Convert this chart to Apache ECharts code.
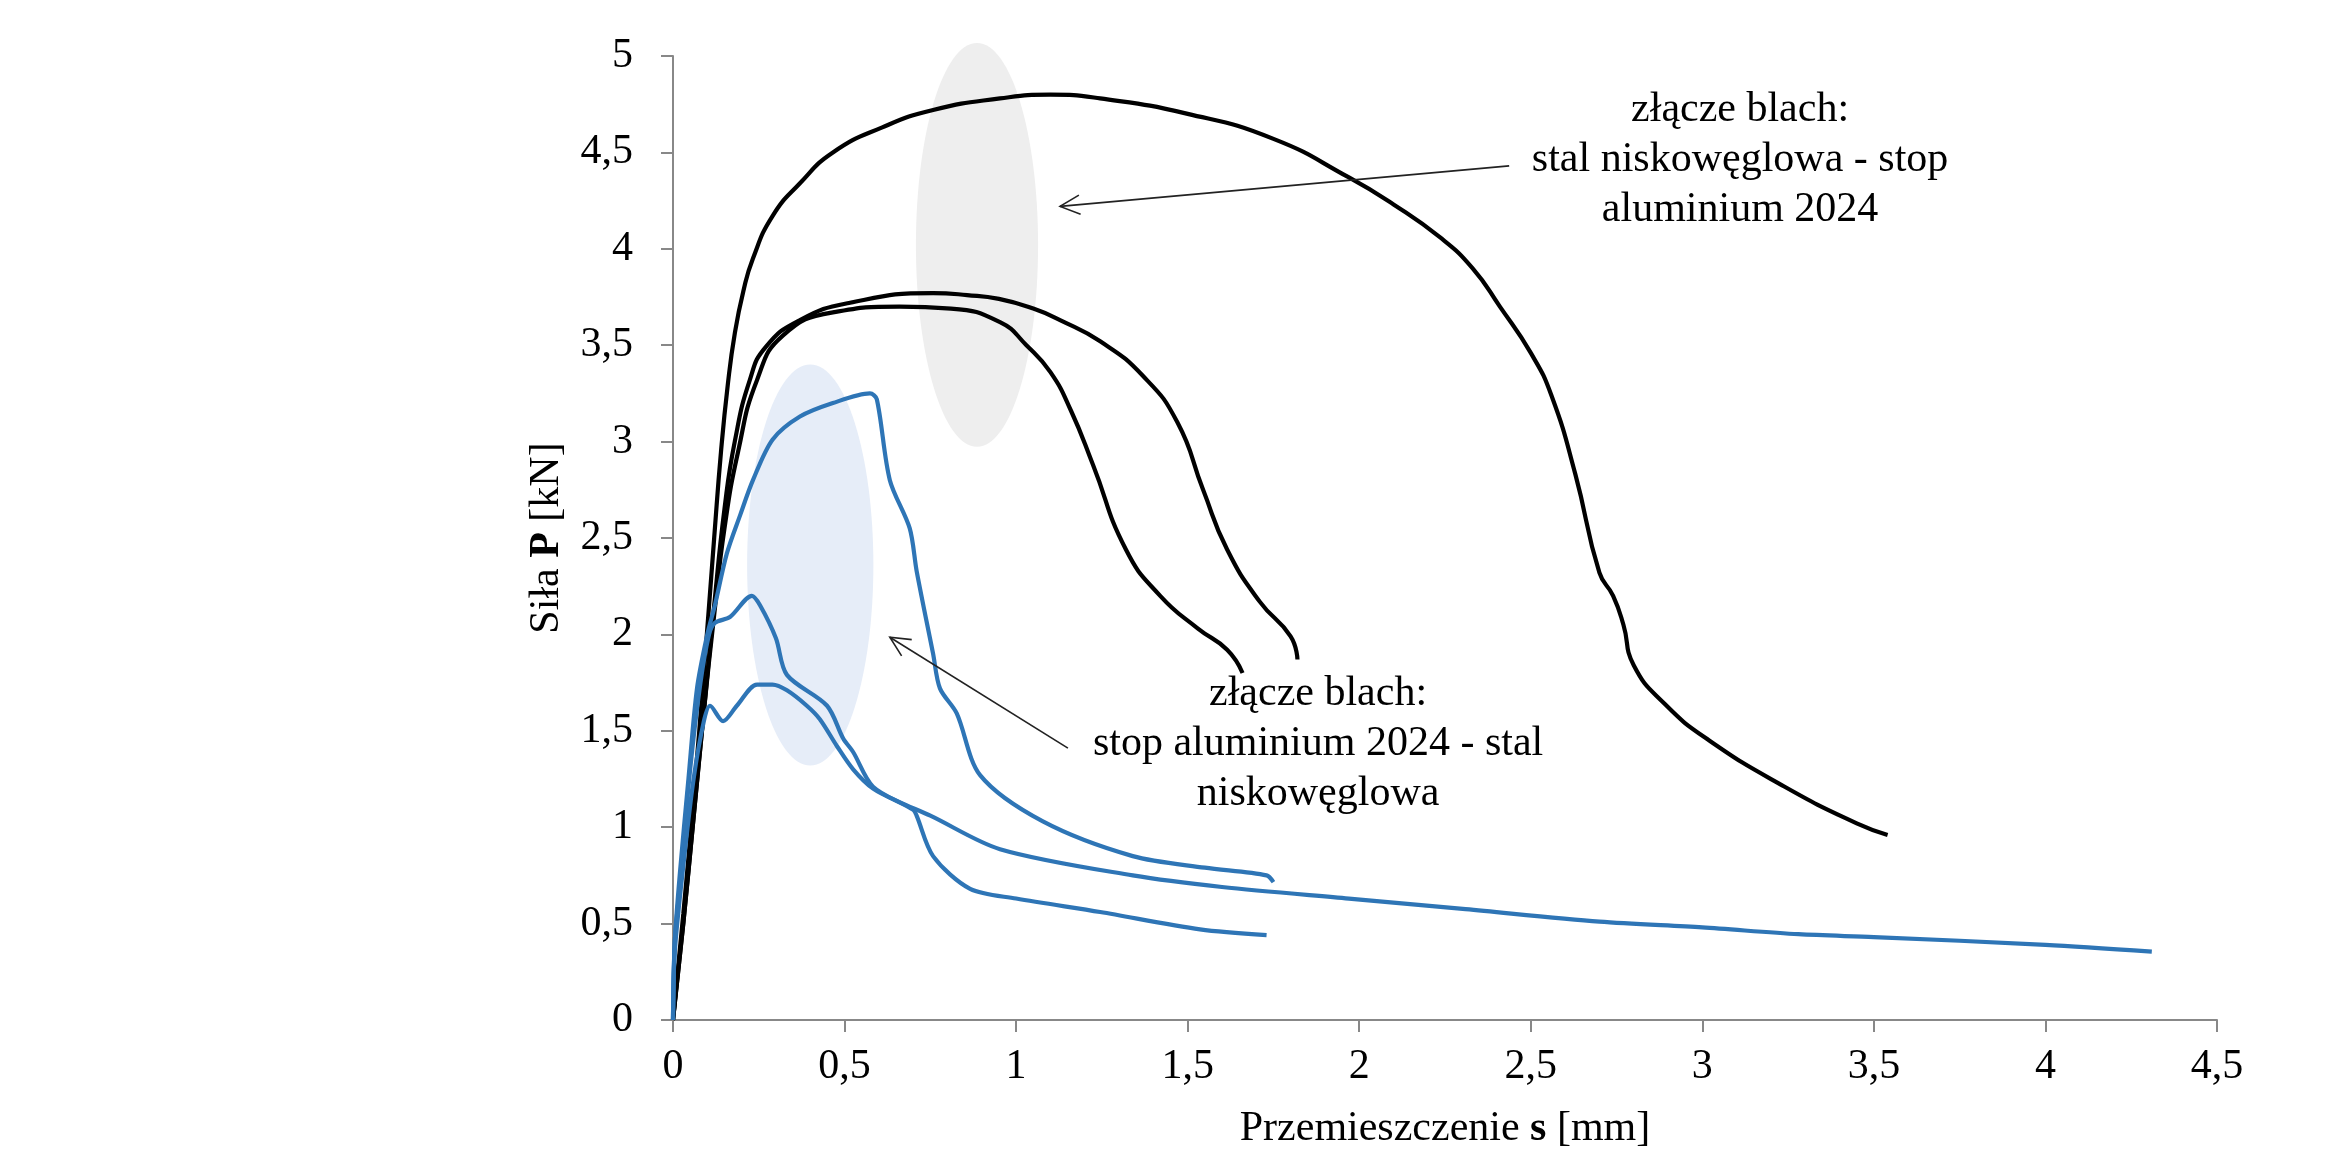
<!DOCTYPE html>
<html>
<head>
<meta charset="utf-8">
<script src="https://cdn.jsdelivr.net/npm/echarts@6/dist/echarts.min.js"></script>
<style>
html,body{margin:0;padding:0;background:#fff;}
#main{width:2331px;height:1155px;}
</style>
</head>
<body>
<div id="main"></div>
<script>
// stal - aluminium (czarne)
var steelA = [[0,0],[0.03,0.55],[0.06,1.15],[0.09,1.8],[0.12,2.5],[0.14,2.95],[0.16,3.3],[0.18,3.56],[0.205,3.78],[0.233,3.95],[0.29,4.17],[0.37,4.34],[0.466,4.50],[0.61,4.63],[0.758,4.72],[0.953,4.78],[1.1,4.80],[1.245,4.78],[1.5,4.70],[1.75,4.57],[1.97,4.37],[2.10,4.23],[2.235,4.06],[2.33,3.90],[2.41,3.70],[2.50,3.46],[2.56,3.24],[2.63,2.83],[2.70,2.32],[2.74,2.20],[2.77,2.05],[2.80,1.84],[2.89,1.64],[3.02,1.45],[3.24,1.21],[3.45,1.02],[3.54,0.96]];
var steelB = [[0,0],[0.03,0.5],[0.06,1.05],[0.09,1.6],[0.12,2.15],[0.15,2.65],[0.18,3.0],[0.224,3.32],[0.27,3.49],[0.37,3.63],[0.516,3.72],[0.758,3.77],[0.857,3.76],[0.95,3.74],[1.05,3.69],[1.128,3.63],[1.245,3.52],[1.37,3.34],[1.47,3.10],[1.545,2.75],[1.615,2.44],[1.71,2.17],[1.80,1.99],[1.82,1.87]];
var steelC = [[0,0],[0.03,0.5],[0.06,1.05],[0.09,1.6],[0.12,2.1],[0.15,2.55],[0.19,2.95],[0.245,3.32],[0.32,3.55],[0.466,3.67],[0.66,3.70],[0.81,3.69],[0.953,3.62],[1.03,3.50],[1.1,3.36],[1.16,3.16],[1.224,2.88],[1.32,2.44],[1.42,2.20],[1.53,2.03],[1.615,1.92],[1.66,1.80]];

// aluminium - stal (niebieskie)
var aluA = [[0,0],[0.005,0.4],[0.02,0.76],[0.045,1.25],[0.07,1.72],[0.1,2.0],[0.122,2.15],[0.157,2.42],[0.196,2.62],[0.233,2.80],[0.29,3.01],[0.37,3.13],[0.466,3.20],[0.574,3.25],[0.594,3.22],[0.632,2.80],[0.69,2.55],[0.71,2.33],[0.758,1.9],[0.778,1.72],[0.827,1.59],[0.895,1.27],[1.078,1.03],[1.34,0.85],[1.55,0.79],[1.73,0.75],[1.75,0.715]];
var aluB = [[0,0],[0.005,0.4],[0.02,0.7],[0.05,1.3],[0.08,1.75],[0.105,2.0],[0.122,2.06],[0.166,2.09],[0.23,2.20],[0.254,2.15],[0.30,1.98],[0.332,1.79],[0.449,1.63],[0.496,1.46],[0.525,1.39],[0.583,1.21],[0.70,1.09],[0.71,1.06],[0.758,0.85],[0.866,0.68],[1.0,0.63],[1.245,0.56],[1.536,0.47],[1.73,0.44]];
var aluC = [[0,0],[0.005,0.35],[0.03,0.8],[0.06,1.25],[0.09,1.55],[0.108,1.63],[0.146,1.55],[0.186,1.63],[0.245,1.74],[0.29,1.74],[0.332,1.71],[0.39,1.63],[0.428,1.56],[0.478,1.42],[0.525,1.30],[0.583,1.20],[0.66,1.13],[0.75,1.06],[0.953,0.886],[1.34,0.75],[1.6,0.69],[1.97,0.63],[2.31,0.575],[2.7,0.51],[3.0,0.48],[3.28,0.445],[3.5,0.43],[4.0,0.39],[4.31,0.355]];

// opisy, strzałki i elipsy (w jednostkach wykresu)
var note1 = ['złącze blach:', 'stal niskowęglowa - stop', 'aluminium 2024'];
var note1Pos = [3.11, 4.46];
var arrow1 = [[2.437, 4.43], [1.128, 4.22]];
var note2 = ['złącze blach:', 'stop aluminium 2024 - stal', 'niskowęglowa'];
var note2Pos = [1.88, 1.43];
var arrow2 = [[1.151, 1.41], [0.632, 1.985]];
var ellGray = {cx: 0.886, cy: 4.02, rx: 0.178, ry: 1.047};
var ellBlue = {cx: 0.40, cy: 2.36, rx: 0.184, ry: 1.04};

var FONT = '"Liberation Serif", "Times New Roman", serif';
var BLACK = '#000000', BLUE = '#2e75b6';

function fmt(v) { return String(v).replace('.', ','); }

function lineSeries(data, color, sm) {
    return {
        type: 'line',
        data: data,
        symbol: 'none',
        smooth: sm,
        z: 3,
        lineStyle: {color: color, width: 4.2},
        silent: true
    };
}

var chart = echarts.init(document.getElementById('main'));
var option = {
    animation: false,
    backgroundColor: '#fff',
    grid: {left: 673, right: 114, top: 56, bottom: 134},
    xAxis: {
        type: 'value', min: 0, max: 4.5, interval: 0.5,
        name: 'Przemieszczenie {b|s} [mm]',
        nameLocation: 'middle', nameGap: 88,
        nameTextStyle: {fontFamily: FONT, fontSize: 42, color: '#000',
            rich: {b: {fontFamily: FONT, fontSize: 42, fontWeight: 'bold', color: '#000'}}},
        axisLine: {lineStyle: {color: '#888', width: 2}},
        axisTick: {show: true, length: 12, lineStyle: {color: '#888', width: 2}},
        axisLabel: {fontFamily: FONT, fontSize: 42, color: '#000', margin: 26, formatter: fmt},
        splitLine: {show: false}
    },
    yAxis: {
        type: 'value', min: 0, max: 5, interval: 0.5,
        name: 'Siła {b|P} [kN]',
        nameLocation: 'middle', nameGap: 105,
        nameTextStyle: {fontFamily: FONT, fontSize: 42, color: '#000',
            rich: {b: {fontFamily: FONT, fontSize: 42, fontWeight: 'bold', color: '#000'}}},
        axisLine: {show: true, lineStyle: {color: '#888', width: 2}},
        axisTick: {show: true, length: 12, lineStyle: {color: '#888', width: 2}},
        axisLabel: {fontFamily: FONT, fontSize: 42, color: '#000', margin: 40, formatter: fmt},
        splitLine: {show: false}
    },
    series: [
        lineSeries(steelA, BLACK, 0.5),
        lineSeries(steelB, BLACK, 0.5),
        lineSeries(steelC, BLACK, 0.5),
        lineSeries(aluA, BLUE, 0.3),
        lineSeries(aluB, BLUE, 0.3),
        lineSeries(aluC, BLUE, 0.3)
    ]
};
chart.setOption(option);

function px(p) { return chart.convertToPixel({gridIndex: 0}, p); }

function ellipse(e, color) {
    var c = px([e.cx, e.cy]);
    var r = px([e.cx + e.rx, e.cy + e.ry]);
    return {type: 'ellipse', z: -10, silent: true,
        shape: {cx: c[0], cy: c[1], rx: Math.abs(r[0] - c[0]), ry: Math.abs(c[1] - r[1])},
        style: {fill: color}};
}

function arrow(a) {
    var s = px(a[0]), e = px(a[1]);
    var ang = Math.atan2(s[1] - e[1], s[0] - e[0]);
    var L = 22, w = 0.45;
    var h1 = [e[0] + L * Math.cos(ang + w), e[1] + L * Math.sin(ang + w)];
    var h2 = [e[0] + L * Math.cos(ang - w), e[1] + L * Math.sin(ang - w)];
    var st = {stroke: '#222', lineWidth: 1.6, fill: null};
    return [
        {type: 'line', z: 20, silent: true, shape: {x1: s[0], y1: s[1], x2: e[0], y2: e[1]}, style: st},
        {type: 'polyline', z: 20, silent: true, shape: {points: [h1, e, h2]}, style: st}
    ];
}

function note(lines, pos) {
    var c = px(pos);
    return {type: 'text', z: 20, silent: true, x: c[0], y: c[1],
        style: {text: lines.join('\n'), fontFamily: FONT, fontSize: 42, lineHeight: 50,
            fill: '#000', align: 'center', verticalAlign: 'middle'}};
}

var g = [ellipse(ellGray, '#eeeeee'), ellipse(ellBlue, '#e6edf8')];
g = g.concat(arrow(arrow1), arrow(arrow2));
g.push(note(note1, note1Pos), note(note2, note2Pos));
chart.setOption({graphic: g});
</script>
</body>
</html>
